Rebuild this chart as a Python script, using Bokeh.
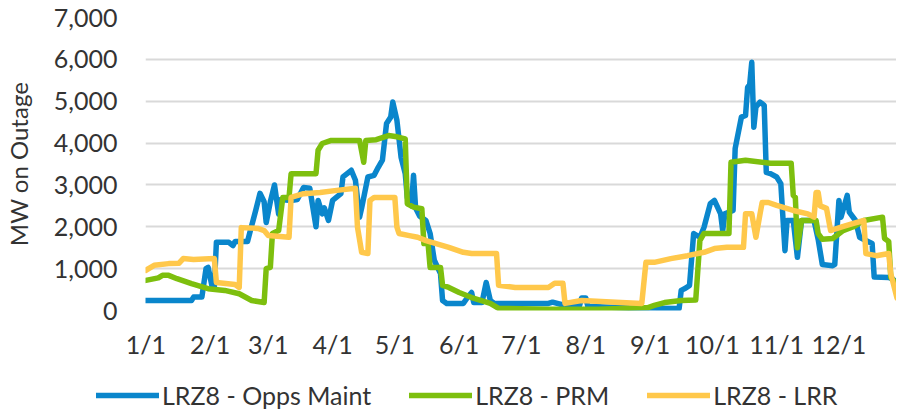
import pandas as pd
from bokeh.plotting import figure
from bokeh.layouts import column, row
from bokeh.models import (FixedTicker, NumeralTickFormatter, CustomJSTickFormatter,
                          Legend, LegendItem, Range1d)
from bokeh.embed import file_html
from bokeh.resources import INLINE

YEAR = "2023-"

# ---- data ----
opps_dates = ["01-01", "01-23", "01-24", "01-28", "01-30", "01-31", "02-02", "02-03", "02-04", "02-10",
              "02-12", "02-13", "02-19", "02-20", "02-23", "02-25", "02-27", "02-28", "03-02", "03-04",
              "03-06", "03-07", "03-12", "03-15", "03-18", "03-21", "03-24", "03-25", "03-27", "03-28",
              "03-30", "04-01", "04-05", "04-06", "04-10", "04-12", "04-14", "04-15", "04-18", "04-21",
              "04-23", "04-25", "04-27", "04-29", "04-30", "05-02", "05-04", "05-06", "05-07", "05-09",
              "05-10", "05-11", "05-13", "05-16", "05-18", "05-20", "05-23", "05-24", "05-26", "06-03",
              "06-05", "06-07", "06-08", "06-12", "06-14", "06-16", "06-18", "07-14", "07-16", "07-22",
              "07-29", "07-30", "08-01", "08-02", "08-22", "09-15", "09-16", "09-18", "09-20", "09-22",
              "09-25", "09-27", "09-30", "10-02", "10-05", "10-06", "10-07", "10-11", "10-12", "10-15",
              "10-17", "10-18", "10-19", "10-20", "10-21", "10-22", "10-24", "10-26", "10-27", "10-29",
              "11-01", "11-03", "11-05", "11-06", "11-09", "11-11", "11-13", "11-19", "11-21", "11-23",
              "11-28", "11-29", "12-01", "12-02", "12-05", "12-06", "12-09", "12-11", "12-14", "12-17",
              "12-18", "12-25", "12-27", "12-29"]
opps_mw = [240, 240, 320, 320, 1000, 1030, 560, 560, 1630, 1630,
           1550, 1650, 1650, 1840, 2400, 2800, 2600, 2100, 2600, 3000,
           2300, 2650, 2630, 2650, 2940, 2920, 2000, 2630, 2310, 2450,
           2150, 2630, 2790, 3190, 3350, 3110, 2230, 2450, 3190, 3230,
           3420, 3590, 4470, 4620, 4980, 4540, 3660, 3270, 2700, 2500,
           3230, 2450, 2250, 2150, 1840, 1200, 880, 240, 170, 170,
           310, 430, 190, 190, 670, 240, 170, 170, 200, 120,
           120, 300, 300, 100, 60, 50, 480, 530, 600, 1840,
           1750, 1990, 2550, 2630, 2310, 1910, 2310, 2390, 3870, 4620,
           4660, 5330, 5400, 5930, 4380, 4860, 4980, 4900, 3300, 3270,
           3190, 3030, 1430, 2150, 2150, 1270, 2150, 2150, 1700, 1100,
           1070, 1100, 2630, 2230, 2750, 2350, 2150, 1750, 1670, 1600,
           800, 790, 750, 650]

prm_dates = ["01-01", "01-07", "01-09", "01-12", "01-16", "01-23", "01-31", "02-08", "02-15", "02-21",
             "02-27", "02-28", "03-02", "03-03", "03-06", "03-08", "03-11", "03-12", "03-24", "03-25",
             "03-27", "03-31", "04-14", "04-16", "04-17", "04-22", "04-28", "05-02", "05-06", "05-07",
             "05-10", "05-14", "05-15", "05-17", "05-18", "05-23", "05-24", "05-27", "06-01", "06-07",
             "06-16", "06-20", "07-14", "08-07", "08-31", "09-03", "09-08", "09-16", "09-23", "09-25",
             "09-27", "10-09", "10-10", "10-17", "10-29", "11-08", "11-09", "11-10", "11-11", "11-13",
             "11-20", "11-21", "11-23", "11-28", "12-03", "12-08", "12-13", "12-22", "12-23", "12-25",
             "12-26", "12-29"]
prm_mw = [720, 780, 840, 840, 760, 640, 520, 480, 400, 240,
          190, 1000, 1030, 1840, 1910, 2700, 2700, 3270, 3270, 3830,
          3990, 4060, 4060, 3540, 4060, 4080, 4180, 4150, 4100, 2550,
          2470, 2430, 1600, 1600, 1030, 1030, 600, 550, 430, 310,
          170, 50, 30, 30, 70, 120, 190, 240, 250, 1670,
          1840, 1840, 3540, 3590, 3520, 3520, 2750, 2700, 1500, 2150,
          2150, 1840, 1700, 1720, 1910, 2000, 2150, 2230, 1720, 1650,
          790, 620]

lrr_dates = ["01-01", "01-05", "01-12", "01-17", "01-19", "01-24", "02-03", "02-04", "02-13", "02-15",
             "02-16", "02-24", "02-27", "03-01", "03-11", "03-12", "03-18", "03-26", "04-03", "04-12",
             "04-13", "04-15", "04-18", "04-19", "04-21", "05-01", "05-02", "05-03", "05-08", "05-12",
             "05-16", "05-27", "06-03", "06-07", "06-19", "06-20", "06-28", "07-14", "07-17", "07-21",
             "07-22", "07-30", "08-18", "08-28", "08-30", "09-03", "09-11", "09-19", "09-27", "10-02",
             "10-08", "10-16", "10-17", "10-20", "10-22", "10-24", "10-25", "10-28", "11-01", "11-09",
             "11-16", "11-19", "11-20", "11-21", "11-22", "11-25", "11-27", "12-02", "12-08", "12-13",
             "12-14", "12-19", "12-25", "12-26", "12-29"]
lrr_mw = [960, 1080, 1120, 1130, 1240, 1220, 1240, 670, 620, 550,
          1980, 1960, 1910, 1790, 1750, 2700, 2790, 2820, 2870, 2920,
          1990, 1390, 1360, 2630, 2700, 2700, 1990, 1840, 1790, 1750,
          1670, 1510, 1390, 1360, 1360, 600, 550, 550, 650, 650,
          170, 240, 190, 170, 1150, 1150, 1240, 1310, 1390, 1480,
          1510, 1510, 2310, 2310, 1750, 2310, 2580, 2580, 2510, 2390,
          2310, 2230, 2820, 2820, 2500, 2440, 1910, 1990, 2080, 2150,
          1360, 1310, 1360, 880, 300]

series_names = ["LRZ8 - Opps Maint", "LRZ8 - PRM", "LRZ8 - LRR"]
series_colors = ["#0A86CC", "#7DBF0E", "#FFC84B"]
month_ticks = ["01-01", "02-01", "03-01", "04-01", "05-01", "06-01",
               "07-01", "08-01", "09-01", "10-01", "11-01", "12-01"]
y_ticks = [0, 1000, 2000, 3000, 4000, 5000, 6000, 7000]

FONT = "Lato"
TXT = "#333333"
W = 896

p = figure(width=W, height=366, x_axis_type="datetime",
           output_backend="svg", toolbar_location=None,
           min_border_left=144, min_border_right=0, min_border_top=17, min_border_bottom=56,
           outline_line_color=None)

p.x_range = Range1d(pd.Timestamp("2022-12-31 20:00"), pd.Timestamp("2023-12-28 18:00"))
p.y_range = Range1d(0, 7000)

for dates, vals, color in [(opps_dates, opps_mw, series_colors[0]),
                           (prm_dates, prm_mw, series_colors[1]),
                           (lrr_dates, lrr_mw, series_colors[2])]:
    xs = pd.to_datetime([YEAR + d for d in dates])
    p.line(xs, vals, line_color=color, line_width=5.5,
           line_join="round", line_cap="round")

# axes
xticks = [pd.Timestamp(YEAR + m).value / 1e6 for m in month_ticks]
p.xaxis.ticker = FixedTicker(ticks=xticks)
p.xaxis.formatter = CustomJSTickFormatter(code="""
    const d = new Date(tick);
    return (d.getUTCMonth() + 1) + '/' + d.getUTCDate();
""")
p.yaxis.ticker = FixedTicker(ticks=y_ticks)
p.yaxis.formatter = NumeralTickFormatter(format="0,0")

for ax in (p.xaxis, p.yaxis):
    ax.axis_line_color = None
    ax.major_tick_line_color = None
    ax.minor_tick_line_color = None
    ax.major_label_text_font = FONT
    ax.major_label_text_font_size = "25px"
    ax.major_label_text_color = TXT

p.xaxis.major_label_standoff = 12
p.yaxis.major_label_standoff = 22
p.yaxis.axis_label = "MW on Outage"
p.yaxis.axis_label_text_font = FONT
p.yaxis.axis_label_text_font_size = "24px"
p.yaxis.axis_label_text_font_style = "normal"
p.yaxis.axis_label_text_color = TXT
p.yaxis.axis_label_standoff = 18

p.xgrid.grid_line_color = None
p.ygrid.grid_line_color = "#D9D9D9"
p.ygrid.grid_line_width = 2

# legend strip below the chart, centred on the whole chart width
lg = figure(width=W, height=44, output_backend="svg", toolbar_location=None,
            min_border=0, min_border_left=0, outline_line_color=None,
            x_axis_location=None, y_axis_location=None,
            x_range=Range1d(0, W), y_range=Range1d(0, 44))
lg.grid.visible = False
swatches = [lg.line([-20, -10], [-20, -20], line_color=c, line_width=5.5, line_cap="round")
            for c in series_colors]
legend = Legend(items=[LegendItem(label=n, renderers=[r]) for n, r in zip(series_names, swatches)],
                orientation="horizontal", location=(96, 0),
                label_text_font=FONT, label_text_font_size="25px", label_text_color=TXT,
                glyph_width=63, glyph_height=24, label_height=24, label_standoff=3,
                spacing=38, padding=0, margin=0,
                border_line_color=None, background_fill_alpha=0)
lg.add_layout(legend, "center")

layout = column(row(p), row(lg), spacing=0)
open("out.html", "w").write(file_html(layout, INLINE))
